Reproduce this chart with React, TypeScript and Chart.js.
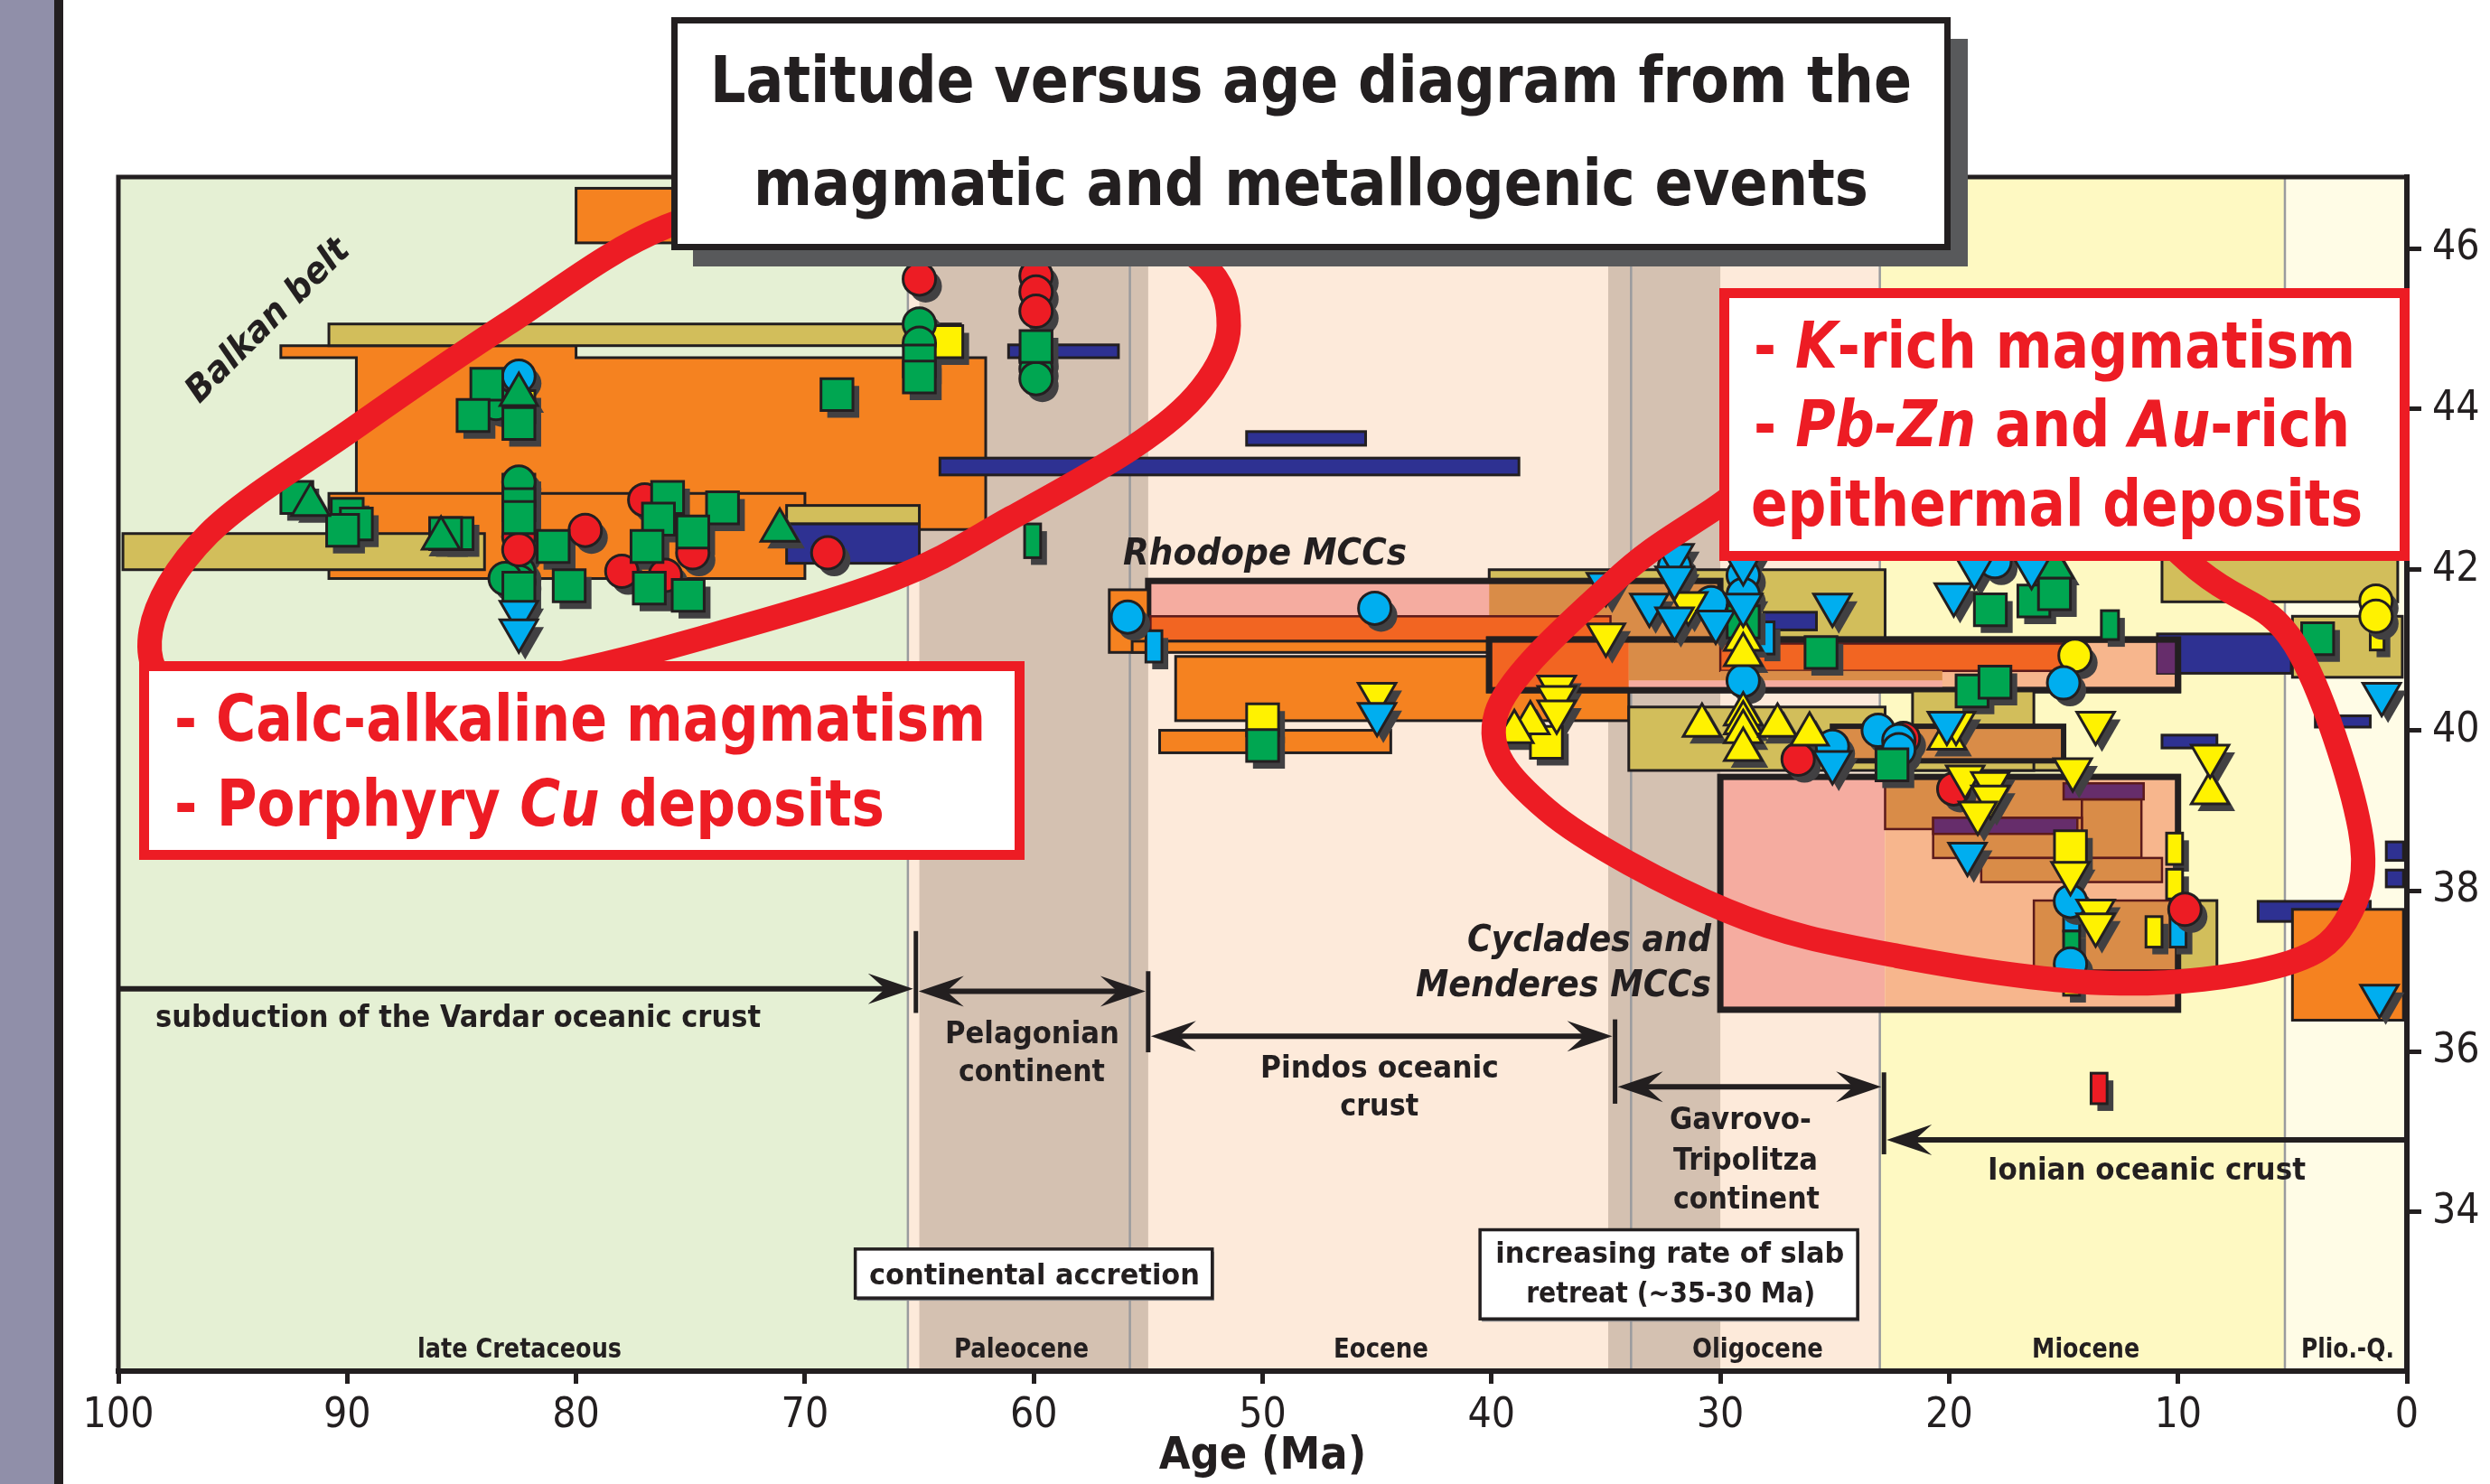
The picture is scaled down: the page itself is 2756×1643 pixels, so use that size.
import React, { useEffect, useRef } from 'react';
import { Chart, registerables } from 'chart.js';

Chart.register(...registerables);

const W = 2756;
const H = 1643;
const FONT = '"Liberation Sans Narrow", "DejaVu Sans Condensed", "Liberation Sans", Arial, sans-serif';
const INK = '#231f20';
const RED = '#ed1c24';

// ---------------- axes ----------------
const ageMin = 0;
const ageMax = 100;
const latMin = 32.02;
const latMax = 46.89;
const latTicks = [34, 36, 38, 40, 42, 44, 46];

// ---------------- epochs ----------------
const epochNames = ['late Cretaceous', 'Paleocene', 'Eocene', 'Oligocene', 'Miocene', 'Plio.-Q.'];
const epochOld = [100, 65.5, 55.8, 33.9, 23.03, 5.33];
const epochYoung = [65.5, 55.8, 33.9, 23.03, 5.33, 0];
const epochLabelAge = [82.47, 60.54, 44.83, 28.37, 14.03, 2.59];
const epochLabelLat = 32.19;
const continentOld = [65.0, 34.9];
const continentYoung = [55.0, 30.0];

// ---------------- boxes (age ranges x latitude ranges) ----------------
const boxKind = [
  'orange', 'khaki', 'navy', 'navy', 'navy', 'orange', 'khaki', 'khaki', 'navy', 'greenSym',
  'orange', 'orange', 'khaki', 'khaki', 'pink', 'brownFill', 'thickLine', 'orange', 'darkOrange', 'orange',
  'peachThick', 'darkOrangeFill', 'brownFill', 'darkOrange', 'brownFill', 'pink', 'navy', 'purpleFill', 'thickLine', 'khaki',
  'navy', 'navy', 'navy', 'khaki', 'khaki', 'khaki', 'brownThick', 'pink', 'peach', 'brown',
  'brown', 'brown', 'brown', 'purple', 'purple', 'khaki', 'brown', 'thickLine', 'navy', 'orange',
  'navy', 'navy', 'redSym', 'blueSym', 'greenSym', 'yellowSym', 'blueSym', 'yellowSym', 'yellowSym', 'yellowSym',
  'blueSym', 'blueSym', 'greenSym', 'yellowSym',
];
const boxAgeOld = [
  80.0, 90.8, 61.1, 64.1, 50.7, 90.8, 99.8, 70.8, 70.8, 60.4,
  53.8, 54.5, 40.1, 10.7, 55.0, 40.1, 55.0, 56.7, 54.9, 55.7,
  40.1, 40.1, 34.0, 30.0, 30.0, 34.0, 10.9, 10.9, 40.1, 5.0,
  28.1, 4.0, 10.7, 34.0, 22.8, 21.6, 25.1, 30.0, 22.8, 22.8,
  14.2, 20.7, 18.6, 15.0, 20.7, 10.0, 16.3, 30.0, 6.5, 5.0,
  0.9, 0.9, 13.8, 55.1, 13.35, 1.6, 28.35, 10.5, 10.5, 11.4,
  10.35, 15.0, 15.0, 15.0,
];
const boxAgeYoung = [
  62.0, 63.2, 56.3, 38.8, 45.5, 70.0, 84.0, 65.0, 65.0, 59.7,
  34.0, 44.4, 22.8, 0.4, 30.0, 30.0, 30.0, 55.0, 34.8, 40.1,
  10.0, 34.0, 30.0, 15.0, 20.3, 20.3, 5.05, 10.0, 10.0, 0.2,
  25.8, 1.6, 8.3, 22.8, 15.0, 16.3, 15.0, 22.8, 10.0, 14.2,
  11.6, 14.2, 10.7, 11.5, 14.4, 8.3, 10.0, 10.0, 1.6, 0.15,
  0.15, 0.15, 13.1, 54.4, 12.6, 1.0, 27.65, 9.8, 9.8, 10.7,
  9.65, 14.3, 14.3, 14.3,
];
const boxLatLow = [
  46.07, 44.79, 44.64, 43.18, 43.55, 41.89, 42.0, 42.57, 42.08, 42.15,
  40.12, 39.72, 41.14, 41.6, 41.0, 41.14, 41.0, 40.97, 41.11, 40.97,
  40.5, 40.5, 40.62, 40.74, 40.62, 40.5, 40.71, 40.71, 40.5, 40.66,
  41.25, 40.04, 39.78, 39.5, 39.5, 39.5, 39.62, 36.52, 36.52, 38.77,
  38.41, 38.41, 38.11, 39.14, 38.71, 37.01, 37.01, 36.52, 37.62, 36.39,
  38.38, 38.05, 35.35, 40.85, 41.13, 41.0, 40.95, 38.33, 37.9, 37.3,
  37.3, 37.5, 37.15, 36.7,
];
const boxLatHigh = [
  46.75, 45.06, 44.80, 43.39, 43.72, 42.95, 42.45, 42.8, 42.57, 42.57,
  40.92, 40.0, 42.0, 42.3, 41.86, 41.86, 41.86, 41.75, 41.42, 41.11,
  41.13, 41.11, 41.11, 41.08, 40.74, 40.62, 41.2, 41.13, 41.13, 41.42,
  41.47, 40.18, 39.94, 40.29, 39.65, 40.49, 40.05, 39.42, 39.42, 39.42,
  39.14, 38.91, 38.41, 39.34, 38.91, 37.88, 37.88, 39.42, 37.87, 37.77,
  38.61, 38.26, 35.73, 41.24, 41.49, 41.4, 41.35, 38.72, 38.27, 37.68,
  37.68, 37.75, 37.5, 37.05,
];

// Balkan orange outline (stepped shape)
const balkanPolyAge = [92.9, 80.0, 80.0, 62.1, 62.1, 89.6, 89.6, 92.9];
const balkanPolyLat = [44.79, 44.79, 44.64, 44.64, 42.50, 42.50, 44.64, 44.64];

// ---------------- point symbols [age, latitude] ----------------
const yellowSquares = [[63.8, 44.84], [82.5, 44.03], [82.5, 42.99], [50.0, 40.13], [37.6, 39.85], [14.7, 38.55]];
const yellowCircles = [[14.5, 40.93], [1.35, 41.61], [1.35, 41.42]];
const greenCircles = [[65.0, 45.06], [65.0, 44.82], [83.5, 44.07], [82.5, 43.09], [82.5, 41.97], [82.5, 41.85], [83.1, 41.89], [59.9, 44.62], [59.9, 44.5], [59.9, 44.38]];
const redCircles = [[65.0, 45.62], [59.9, 45.66], [59.9, 45.46], [59.9, 45.22], [82.5, 42.41], [82.5, 42.25], [79.6, 42.49], [77.0, 42.87], [74.9, 42.21], [78.0, 41.98], [76.1, 41.93], [69.0, 42.21], [26.6, 39.64], [22.0, 39.9], [19.8, 39.27], [9.7, 37.77]];
const blueCircles = [[82.5, 44.41], [55.9, 41.41], [45.1, 41.52], [32.0, 42.04], [30.4, 41.59], [29.0, 41.93], [29.0, 41.69], [29.0, 40.62], [25.1, 39.8], [23.1, 40.0], [22.2, 39.87], [22.2, 39.76], [15.0, 40.59], [18.0, 42.1], [14.7, 37.87], [14.7, 37.09]];
const greenSquares = [
  [65.0, 44.6], [65.0, 44.4], [68.6, 44.18], [83.9, 44.31], [84.5, 43.92], [82.5, 43.82], [59.9, 44.78],
  [92.2, 42.9], [90.0, 42.69], [89.6, 42.57], [90.2, 42.49], [85.2, 42.45], [85.7, 42.45],
  [82.5, 42.81], [82.5, 42.65], [82.5, 41.77], [81.0, 42.29], [80.3, 41.8],
  [76.0, 42.9], [73.6, 42.77], [76.4, 42.63], [74.9, 42.47], [76.9, 42.29], [76.8, 41.77], [75.1, 41.68],
  [50.0, 39.81], [29.0, 41.35], [25.6, 40.97], [18.2, 41.5], [16.3, 41.61], [15.4, 41.7], [19.0, 40.49], [18.0, 40.6], [3.9, 41.14], [22.5, 39.57],
];
const greenTriangles = [[82.5, 44.18], [91.6, 42.81], [85.9, 42.39], [71.1, 42.49], [15.4, 42.03]];
const yellowTrianglesUp = [[38.3, 40.09], [39.0, 39.98], [29.0, 41.13], [29.0, 40.94], [29.0, 40.2], [29.0, 40.09], [29.0, 39.98], [29.0, 39.76], [30.8, 40.06], [27.5, 40.06], [26.1, 39.95], [20.1, 39.9], [8.6, 39.22]];
const yellowTrianglesDown = [[45.0, 40.45], [35.0, 41.19], [37.15, 40.54], [37.15, 40.41], [37.15, 40.23], [31.4, 41.58], [13.6, 40.09], [8.6, 39.68], [19.7, 40.09], [14.6, 39.51], [19.3, 39.42], [18.2, 39.34], [18.2, 39.17], [18.75, 38.97], [14.7, 38.22], [13.6, 37.75], [13.6, 37.58]];
const blueTrianglesDown = [[82.5, 41.47], [82.5, 41.24], [45.0, 40.2], [35.0, 41.82], [32.0, 42.18], [32.0, 41.9], [33.1, 41.56], [32.0, 41.39], [30.2, 41.35], [29.0, 41.56], [29.0, 42.08], [25.1, 41.56], [19.8, 41.69], [18.9, 42.03], [16.4, 42.03], [1.1, 40.45], [25.1, 39.6], [20.1, 40.09], [19.2, 38.46], [1.2, 36.69]];

// ---------------- tectonic arrows ----------------
const arrowLat = [36.78, 36.75, 36.19, 35.56, 34.9];
const arrowFrom = [100, 65.15, 55.0, 34.6, 0];
const arrowTo = [65.15, 55.0, 34.6, 22.85, 22.85];
const arrowBothHeads = [false, true, true, true, false];
const sepAge = [65.15, 55.0, 34.6, 22.85];
const sepLatLow = [36.48, 35.99, 35.35, 34.72];
const sepLatHigh = [37.5, 37.0, 36.4, 35.74];

// ---------------- notes ----------------
const noteText = ['subduction of the Vardar oceanic crust', 'Pelagonian', 'continent', 'Pindos oceanic', 'crust', 'Gavrovo-', 'Tripolitza', 'continent', 'Ionian oceanic crust', 'continental accretion', 'increasing rate of slab', 'retreat (~35-30 Ma)'];
const noteAge = [98.38, 60.07, 60.09, 44.89, 44.9, 29.12, 28.9, 28.86, 11.37, 59.97, 32.2, 32.17];
const noteLat = [36.30, 36.10, 35.63, 35.68, 35.20, 35.03, 34.53, 34.04, 34.41, 33.10, 33.37, 32.87];
const italicText = ['Rhodope MCCs', 'Cyclades and', 'Menderes MCCs'];
const italicAge = [56.1, 30.4, 30.4];
const italicLat = [42.06, 37.25, 36.69];
const noteBoxAgeOld = [67.8, 40.5];
const noteBoxAgeYoung = [52.2, 24.0];
const noteBoxLatLow = [32.93, 32.67];
const noteBoxLatHigh = [33.54, 33.78];

// red loops (closed curves) [age, lat]
const balkanLoopAge = [98.58, 96.05, 89.66, 83.02, 76.08, 67.67, 57.8, 52.66, 51.48, 52.66, 55.63, 60.95, 66.09, 74.38, 81.48, 91.35, 97.27];
const balkanLoopLat = [41.24, 42.45, 43.77, 45.06, 46.27, 46.84, 46.67, 45.83, 45.04, 44.26, 43.53, 42.65, 41.89, 41.16, 40.66, 40.21, 40.43];
const aegeanLoopAge = [39.79, 34.7, 30.36, 24.24, 16.34, 9.04, 4.9, 2.05, 2.68, 5.69, 12.91, 22.27, 29.69, 37.58];
const aegeanLoopLat = [40.21, 41.84, 42.74, 43.81, 43.69, 41.98, 41.07, 38.77, 37.62, 37.06, 36.85, 37.19, 37.75, 39.01];

// ---------------- styles ----------------
const EPOCH_FILL = ['#e5f0d4', '#fdeada', '#fdeada', '#fdeada', '#fef9c2', '#fffce6'];
const EPOCH_LABEL_W = [226, 149, 105, 145, 119, 103];
const NOTE_W = [670, 193, 162, 264, 87, 157, 160, 162, 352, 366, 386, 320];
const NOTE_ALIGN = ['left', 'center', 'center', 'center', 'center', 'center', 'center', 'center', 'center', 'center', 'center', 'center'];
const NOTE_SIZE = [33, 34, 34, 34, 34, 34, 34, 34, 34, 32, 32, 32];
const ITALIC_W = [314, 270, 327];
const ITALIC_ALIGN = ['left', 'right', 'right'];
const GREEN = '#00a651';
const BLUE = '#00aeef';
const YELLOW = '#fff200';
const SHADOW = '#414042';
const BOX_STYLE: Record<string, any> = {
  orange: { fill: '#f58220', stroke: INK, lw: 3 },
  khaki: { fill: '#d2be5b', stroke: INK, lw: 3 },
  navy: { fill: '#2e3192', stroke: INK, lw: 3 },
  pink: { fill: '#f5aca0' },
  peach: { fill: '#f7b68d' },
  brown: { fill: '#d98c48', stroke: '#5c1a1b', lw: 2.5 },
  brownFill: { fill: '#d98c48' },
  darkOrange: { fill: '#f26522', stroke: '#5c1a1b', lw: 2.5 },
  darkOrangeFill: { fill: '#f26522' },
  purple: { fill: '#662d6b', stroke: '#5c1a1b', lw: 2.5 },
  purpleFill: { fill: '#662d6b' },
  thickLine: { stroke: INK, lw: 7 },
  peachThick: { fill: '#f7b68d', stroke: INK, lw: 7 },
  brownThick: { fill: '#d98c48', stroke: INK, lw: 6 },
  redSym: { fill: RED, stroke: INK, lw: 3, shadow: true },
  greenSym: { fill: GREEN, stroke: INK, lw: 3, shadow: true },
  blueSym: { fill: BLUE, stroke: INK, lw: 3, shadow: true },
  yellowSym: { fill: YELLOW, stroke: INK, lw: 3, shadow: true },
};

// ---------------- helpers ----------------
function fitText(ctx: CanvasRenderingContext2D, segs: [string, string][], x: number, y: number, width: number, align: string, size: number, color: string, weight = 'bold') {
  let total = 0;
  const ws = segs.map(([t, st]) => {
    ctx.font = `${st} ${weight} ${size}px ${FONT}`;
    const w = ctx.measureText(t).width;
    total += w;
    return w;
  });
  const sx = width / total;
  const x0 = align === 'left' ? x : align === 'center' ? x - width / 2 : x - width;
  ctx.save();
  ctx.translate(x0, y);
  ctx.scale(sx, 1);
  ctx.fillStyle = color;
  ctx.textAlign = 'left';
  ctx.textBaseline = 'alphabetic';
  let cx = 0;
  segs.forEach(([t, st], i) => {
    ctx.font = `${st} ${weight} ${size}px ${FONT}`;
    ctx.fillText(t, cx, 0);
    cx += ws[i];
  });
  ctx.restore();
}

function shapePath(ctx: CanvasRenderingContext2D, style: string, x: number, y: number, r: number, rot: number) {
  ctx.beginPath();
  if (style === 'rect') {
    const s = r * Math.SQRT1_2;
    ctx.rect(x - s, y - s, 2 * s, 2 * s);
  } else if (style === 'triangle') {
    let a = (rot * Math.PI) / 180;
    for (let k = 0; k < 3; k++) {
      const px = x + Math.sin(a) * r;
      const py = y - Math.cos(a) * r;
      if (k === 0) ctx.moveTo(px, py);
      else ctx.lineTo(px, py);
      a += (2 * Math.PI) / 3;
    }
    ctx.closePath();
  } else {
    ctx.arc(x, y, r, 0, Math.PI * 2);
  }
}

function closedSpline(ctx: CanvasRenderingContext2D, pts: number[][]) {
  const n = pts.length;
  ctx.beginPath();
  ctx.moveTo(pts[0][0], pts[0][1]);
  for (let i = 0; i < n; i++) {
    const p0 = pts[(i - 1 + n) % n];
    const p1 = pts[i];
    const p2 = pts[(i + 1) % n];
    const p3 = pts[(i + 2) % n];
    ctx.bezierCurveTo(
      p1[0] + (p2[0] - p0[0]) / 6, p1[1] + (p2[1] - p0[1]) / 6,
      p2[0] - (p3[0] - p1[0]) / 6, p2[1] - (p3[1] - p1[1]) / 6,
      p2[0], p2[1]
    );
  }
  ctx.closePath();
}

function arrowHead(ctx: CanvasRenderingContext2D, tipX: number, y: number, dir: number) {
  const len = 50;
  const half = 17;
  ctx.beginPath();
  ctx.moveTo(tipX, y);
  ctx.lineTo(tipX - dir * len, y - half);
  ctx.lineTo(tipX - dir * len * 0.62, y);
  ctx.lineTo(tipX - dir * len, y + half);
  ctx.closePath();
  ctx.fill();
}

const decorPlugin = {
  id: 'decor',
  beforeDraw(chart: any) {
    const { ctx, chartArea } = chart;
    const xs = chart.scales.x;
    const ys = chart.scales.y;
    const X = (a: number) => xs.getPixelForValue(a);
    const Y = (l: number) => ys.getPixelForValue(l);
    const { top, bottom } = chartArea;
    ctx.save();
    ctx.fillStyle = '#ffffff';
    ctx.fillRect(0, 0, W, H);
    ctx.fillStyle = '#908fa9';
    ctx.fillRect(0, 0, 60, H);
    ctx.fillStyle = INK;
    ctx.fillRect(60, 0, 10, H);

    epochOld.forEach((a, i) => {
      ctx.fillStyle = EPOCH_FILL[i];
      ctx.fillRect(X(a), top, X(epochYoung[i]) - X(a), bottom - top);
    });
    continentOld.forEach((a, i) => {
      ctx.fillStyle = '#d4c1b1';
      ctx.fillRect(X(a), top, X(continentYoung[i]) - X(a), bottom - top);
    });
    ctx.strokeStyle = '#9a9b9e';
    ctx.lineWidth = 2.5;
    epochOld.slice(1).forEach((a) => {
      ctx.beginPath();
      ctx.moveTo(X(a), top);
      ctx.lineTo(X(a), bottom);
      ctx.stroke();
    });
    epochNames.forEach((t, i) => {
      fitText(ctx, [[t, '']], X(epochLabelAge[i]), Y(epochLabelLat), EPOCH_LABEL_W[i], 'center', 30, INK);
    });

    // Balkan orange stepped shape
    ctx.beginPath();
    balkanPolyAge.forEach((a, i) => {
      if (i === 0) ctx.moveTo(X(a), Y(balkanPolyLat[i]));
      else ctx.lineTo(X(a), Y(balkanPolyLat[i]));
    });
    ctx.closePath();
    ctx.fillStyle = '#f58220';
    ctx.fill();
    ctx.lineWidth = 3;
    ctx.strokeStyle = INK;
    ctx.stroke();

    boxKind.forEach((k, i) => {
      const st = BOX_STYLE[k];
      const x1 = X(boxAgeOld[i]);
      const x2 = X(boxAgeYoung[i]);
      const y1 = Y(boxLatHigh[i]);
      const y2 = Y(boxLatLow[i]);
      if (st.shadow) {
        ctx.fillStyle = SHADOW;
        ctx.fillRect(x1 + 7, y1 + 8, x2 - x1, y2 - y1);
      }
      if (st.fill) {
        ctx.fillStyle = st.fill;
        ctx.fillRect(x1, y1, x2 - x1, y2 - y1);
      }
      if (st.stroke) {
        ctx.strokeStyle = st.stroke;
        ctx.lineWidth = st.lw;
        ctx.strokeRect(x1, y1, x2 - x1, y2 - y1);
      }
    });
    ctx.restore();
  },
  beforeDatasetsDraw(chart: any) {
    const ctx = chart.ctx;
    ctx.save();
    ctx.fillStyle = SHADOW;
    chart.data.datasets.forEach((_: any, i: number) => {
      const meta = chart.getDatasetMeta(i);
      meta.data.forEach((el: any) => {
        const o = el.options;
        shapePath(ctx, o.pointStyle, el.x + 7, el.y + 8, o.radius, o.rotation || 0);
        ctx.fill();
      });
    });
    ctx.restore();
  },
  afterDatasetsDraw(chart: any) {
    const { ctx, chartArea } = chart;
    const xs = chart.scales.x;
    const ys = chart.scales.y;
    const X = (a: number) => xs.getPixelForValue(a);
    const Y = (l: number) => ys.getPixelForValue(l);
    ctx.save();
    // frame
    ctx.strokeStyle = INK;
    ctx.lineWidth = 5;
    ctx.strokeRect(chartArea.left, chartArea.top, chartArea.right - chartArea.left, chartArea.bottom - chartArea.top);

    // arrows
    ctx.fillStyle = INK;
    ctx.strokeStyle = INK;
    arrowLat.forEach((l, i) => {
      const y = Y(l);
      const xa = X(arrowFrom[i]);
      const xb = X(arrowTo[i]);
      const dir = xb > xa ? 1 : -1;
      ctx.lineWidth = 6;
      ctx.beginPath();
      ctx.moveTo(arrowBothHeads[i] ? xa + dir * 30 : xa, y);
      ctx.lineTo(xb - dir * 30, y);
      ctx.stroke();
      arrowHead(ctx, xb - dir * 3, y, dir);
      if (arrowBothHeads[i]) arrowHead(ctx, xa + dir * 3, y, -dir);
    });
    ctx.lineWidth = 5;
    sepAge.forEach((a, i) => {
      ctx.beginPath();
      ctx.moveTo(X(a), Y(sepLatHigh[i]));
      ctx.lineTo(X(a), Y(sepLatLow[i]));
      ctx.stroke();
    });

    // note boxes
    noteBoxAgeOld.forEach((a, i) => {
      const x1 = X(a);
      const x2 = X(noteBoxAgeYoung[i]);
      const y1 = Y(noteBoxLatHigh[i]);
      const y2 = Y(noteBoxLatLow[i]);
      ctx.fillStyle = '#808285';
      ctx.fillRect(x1 + 2, y1 + 3, x2 - x1, y2 - y1);
      ctx.fillStyle = '#ffffff';
      ctx.fillRect(x1, y1, x2 - x1, y2 - y1);
      ctx.lineWidth = 3.5;
      ctx.strokeStyle = INK;
      ctx.strokeRect(x1, y1, x2 - x1, y2 - y1);
    });

    noteText.forEach((t, i) => {
      fitText(ctx, [[t, '']], X(noteAge[i]), Y(noteLat[i]), NOTE_W[i], NOTE_ALIGN[i], NOTE_SIZE[i], INK);
    });
    italicText.forEach((t, i) => {
      fitText(ctx, [[t, 'italic']], X(italicAge[i]), Y(italicLat[i]), ITALIC_W[i], ITALIC_ALIGN[i], 40, INK);
    });
    // Balkan belt (rotated)
    ctx.save();
    ctx.translate(X(93.53), Y(45.12));
    ctx.rotate(-Math.PI / 4);
    fitText(ctx, [['Balkan belt', 'italic']], 0, 14, 238, 'center', 40, INK);
    ctx.restore();

    // red loops
    ctx.strokeStyle = RED;
    ctx.lineWidth = 27;
    ctx.lineJoin = 'round';
    closedSpline(ctx, balkanLoopAge.map((a, i) => [X(a), Y(balkanLoopLat[i])]));
    ctx.stroke();
    closedSpline(ctx, aegeanLoopAge.map((a, i) => [X(a), Y(aegeanLoopLat[i])]));
    ctx.stroke();
    ctx.restore();
  },
  afterDraw(chart: any) {
    const ctx = chart.ctx;
    ctx.save();
    // red text boxes
    const redBox = (x1: number, y1: number, x2: number, y2: number) => {
      ctx.fillStyle = '#ffffff';
      ctx.fillRect(x1, y1, x2 - x1, y2 - y1);
      ctx.strokeStyle = RED;
      ctx.lineWidth = 11;
      ctx.strokeRect(x1 + 5.5, y1 + 5.5, x2 - x1 - 11, y2 - y1 - 11);
    };
    redBox(154, 732, 1134, 952);
    fitText(ctx, [['- ', ''], ['Calc-alkaline magmatism', '']], 193, 820, 898, 'left', 71, RED);
    fitText(ctx, [['- Porphyry ', ''], ['Cu', 'italic'], [' deposits', '']], 193, 914, 786, 'left', 71, RED);

    redBox(1903, 319, 2667, 621);
    fitText(ctx, [['- ', ''], ['K', 'italic'], ['-rich magmatism', '']], 1941, 407, 666, 'left', 71, RED);
    fitText(ctx, [['- ', ''], ['Pb-Zn', 'italic'], [' and ', ''], ['Au', 'italic'], ['-rich', '']], 1941, 494, 660, 'left', 71, RED);
    fitText(ctx, [['epithermal deposits', '']], 1938, 582, 677, 'left', 71, RED);

    // title box
    ctx.fillStyle = '#58595b';
    ctx.fillRect(767, 43, 2178 - 767, 295 - 43);
    ctx.fillStyle = '#ffffff';
    ctx.fillRect(743, 19, 2159 - 743, 277 - 19);
    ctx.strokeStyle = INK;
    ctx.lineWidth = 7;
    ctx.strokeRect(746.5, 22.5, 2159 - 743 - 7, 277 - 19 - 7);
    fitText(ctx, [['Latitude versus age diagram from the', '']], 786, 113, 1330, 'left', 72, INK);
    fitText(ctx, [['magmatic and metallogenic events', '']], 834, 227, 1234, 'left', 72, INK);
    ctx.restore();
  },
};

function sym(data: number[][], style: string, color: string, radius: number, rotation: number, order: number) {
  return {
    data: data.map(([x, y]) => ({ x, y })),
    pointStyle: style,
    pointRadius: radius,
    pointHoverRadius: radius,
    pointRotation: rotation,
    pointBackgroundColor: color,
    pointBorderColor: INK,
    pointBorderWidth: 3,
    showLine: false,
    clip: false,
    order,
  };
}

export default function App() {
  const ref = useRef<HTMLCanvasElement>(null);
  useEffect(() => {
    const canvas = ref.current;
    if (!canvas) return;
    const datasets = [
      sym(yellowSquares, 'rect', YELLOW, 25, 0, 10),
      sym(yellowCircles, 'circle', YELLOW, 18, 0, 9),
      sym(greenCircles, 'circle', GREEN, 18, 0, 8),
      sym(redCircles, 'circle', RED, 18, 0, 7),
      sym(blueCircles, 'circle', BLUE, 18, 0, 6),
      sym(greenSquares, 'rect', GREEN, 25, 0, 5),
      sym(greenTriangles, 'triangle', GREEN, 24, 0, 4),
      sym(yellowTrianglesUp, 'triangle', YELLOW, 24, 0, 3),
      sym(yellowTrianglesDown, 'triangle', YELLOW, 24, 180, 2),
      sym(blueTrianglesDown, 'triangle', BLUE, 24, 180, 1),
    ];
    const chart = new Chart(canvas, {
      type: 'scatter',
      data: { datasets },
      options: {
        responsive: false,
        maintainAspectRatio: false,
        devicePixelRatio: 1,
        animation: false,
        events: [],
        layout: { padding: { left: 131, top: 196, right: 0, bottom: 0 } },
        plugins: { legend: { display: false }, tooltip: { enabled: false } },
        scales: {
          x: {
            type: 'linear',
            position: 'bottom',
            min: ageMin,
            max: ageMax,
            reverse: true,
            afterFit: (s: any) => { s.height = 125; },
            ticks: { stepSize: 10, font: { size: 46, family: FONT }, color: INK, padding: 8, maxRotation: 0, autoSkip: false },
            grid: { drawOnChartArea: false, drawTicks: true, tickLength: 14, tickWidth: 5, lineWidth: 5, tickColor: INK, color: INK },
            border: { display: true, width: 6, color: INK },
            title: { display: true, text: 'Age (Ma)', color: INK, font: { size: 50, weight: 'bold', family: FONT }, padding: { top: 0, bottom: 0 } },
          },
          y: {
            type: 'linear',
            position: 'right',
            min: latMin,
            max: latMax,
            afterBuildTicks: (s: any) => { s.ticks = latTicks.map((v) => ({ value: v })); },
            afterFit: (s: any) => { s.width = 92; },
            ticks: { font: { size: 46, family: FONT }, color: INK, padding: 12 },
            grid: { drawOnChartArea: false, drawTicks: true, tickLength: 16, tickWidth: 5, lineWidth: 5, tickColor: INK, color: INK },
            border: { display: true, width: 6, color: INK },
          },
        },
      } as any,
      plugins: [decorPlugin as any],
    });
    return () => chart.destroy();
  }, []);
  return (
    <div style={{ position: 'absolute', left: 0, top: 0, width: W, height: H, background: '#fff' }}>
      <canvas ref={ref} width={W} height={H} style={{ display: 'block', width: W, height: H }} />
    </div>
  );
}
